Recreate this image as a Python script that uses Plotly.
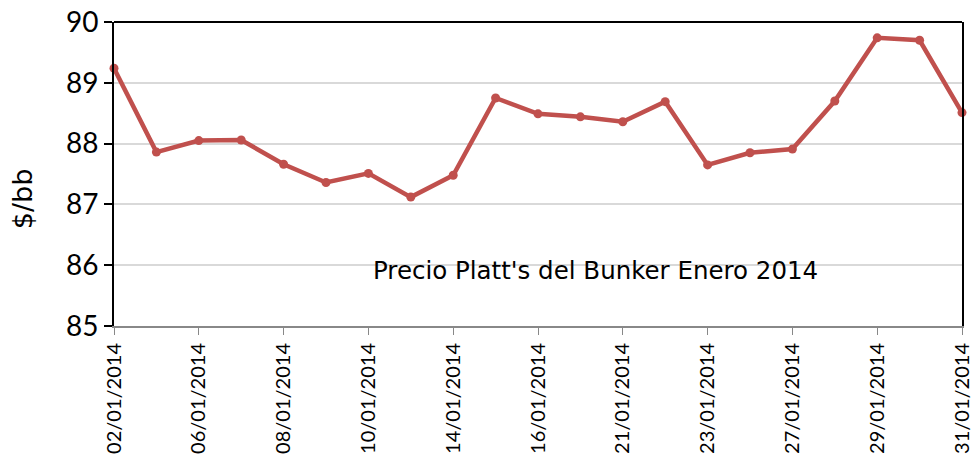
import plotly.graph_objects as go

dates = ["02/01/2014", "03/01/2014", "06/01/2014", "07/01/2014", "08/01/2014",
         "09/01/2014", "10/01/2014", "13/01/2014", "14/01/2014", "15/01/2014",
         "16/01/2014", "17/01/2014", "21/01/2014", "22/01/2014", "23/01/2014",
         "24/01/2014", "27/01/2014", "28/01/2014", "29/01/2014", "30/01/2014",
         "31/01/2014"]
prices = [89.24, 87.86, 88.05, 88.06, 87.66, 87.36, 87.51, 87.12, 87.48, 88.75,
          88.49, 88.44, 88.36, 88.69, 87.65, 87.85, 87.91, 88.70, 89.74, 89.70,
          88.51]
y_ticks = [85, 86, 87, 88, 89, 90]
title_text = "Precio Platt's del Bunker Enero 2014"
y_title = "$/bb"

NUM_FONT = "Lato, DejaVu Sans, sans-serif"
TXT_FONT = "DejaVu Sans, sans-serif"
idx = list(range(len(dates)))

fig = go.Figure()
fig.add_trace(go.Scatter(
    x=idx, y=prices, mode="lines+markers",
    line=dict(color="#C0504D", width=4.5),
    marker=dict(color="#C0504D", size=9),
    showlegend=False, cliponaxis=False,
))

fig.update_layout(
    width=972, height=454,
    margin=dict(l=114, r=10, t=22, b=128, autoexpand=False),
    paper_bgcolor="white", plot_bgcolor="white",
    font=dict(family=NUM_FONT, color="black"),
    xaxis=dict(
        range=[0, len(dates) - 1],
        tickvals=idx[::2], ticktext=dates[::2],
        tickangle=-90, tickfont=dict(size=20, family=NUM_FONT),
        ticklabeloverflow="allow",
        ticks="outside", ticklen=7, tickcolor="#888888", tickwidth=1,
        showline=True, linecolor="#888888", linewidth=2,
        showgrid=False, zeroline=False, automargin=False,
    ),
    yaxis=dict(
        range=[85, 90], tickvals=y_ticks,
        tickfont=dict(size=28, family=NUM_FONT),
        ticks="outside", ticklen=8, tickcolor="black", tickwidth=2,
        showline=True, linecolor="black", linewidth=2, mirror=True,
        showgrid=True, gridcolor="#D9D9D9", gridwidth=2,
        zeroline=False, automargin=False,
    ),
    shapes=[dict(type="line", xref="paper", yref="paper", x0=0, x1=1, y0=1, y1=1,
                 line=dict(color="black", width=2))],
    annotations=[
        dict(x=11.35, y=85.92, xref="x", yref="y", text=title_text,
             showarrow=False, font=dict(size=24.5, family=TXT_FONT),
             xanchor="center", yanchor="middle"),
        dict(x=-0.107, y=0.418, xref="paper", yref="paper", text=y_title,
             textangle=-90, showarrow=False,
             font=dict(size=27, family=TXT_FONT),
             xanchor="center", yanchor="middle"),
    ],
)

fig.write_html(
    "out.html",
    config={"displayModeBar": False},
    post_script="document.body.style.margin='0';document.body.style.overflow='hidden';",
)
